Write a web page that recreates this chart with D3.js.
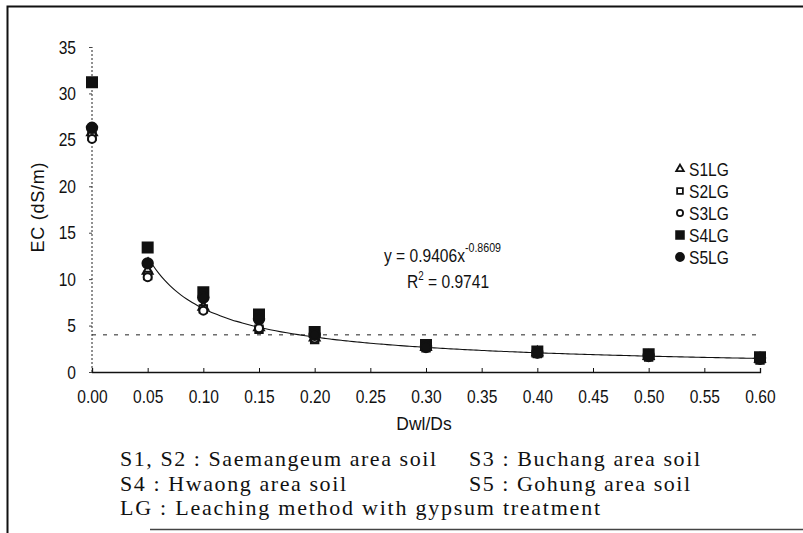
<!DOCTYPE html>
<html>
<head>
<meta charset="utf-8">
<script src="https://cdn.jsdelivr.net/npm/d3@7"></script>
<style>
  html, body { margin: 0; padding: 0; background: #fff; }
  svg { display: block; }
</style>
</head>
<body>
<svg id="chart" width="803" height="533"></svg>
<script>
// Depth of leaching water over soil depth (Dwl/Ds) and soil EC
const ratios = [0, 0.05, 0.10, 0.15, 0.20, 0.30, 0.40, 0.50, 0.60];
const s1LG = [25.8, 10.9, 7.0, 4.8, 3.7, 2.7, 2.1, 1.7, 1.4];
const s2LG = [25.4, 10.4, 6.8, 4.6, 3.5, 2.6, 2.0, 1.6, 1.3];
const s3LG = [25.1, 10.2, 6.6, 4.7, 3.6, 2.6, 2.0, 1.6, 1.3];
const s4LG = [31.2, 13.4, 8.6, 6.2, 4.3, 2.9, 2.2, 1.9, 1.6];
const s5LG = [26.3, 11.7, 8.0, 5.7, 4.0, 2.7, 2.1, 1.8, 1.5];
const seriesNames = ["S1LG", "S2LG", "S3LG", "S4LG", "S5LG"];
const xTicks = [0, 0.05, 0.10, 0.15, 0.20, 0.25, 0.30, 0.35, 0.40, 0.45, 0.50, 0.55, 0.60];
const yTicks = [0, 5, 10, 15, 20, 25, 30, 35];
// Power-law fit y = a * x^b
const fitA = 0.9406, fitB = -0.8609, fitR2 = 0.9741;
const thresholdEC = 4;
const notes = [
  ["S1, S2 : Saemangeum area soil", "S3 : Buchang area soil"],
  ["S4 : Hwaong area soil", "S5 : Gohung area soil"],
  ["LG : Leaching method with gypsum treatment", null]
];

const svg = d3.select("#chart");
const x = d3.scaleLinear().domain([0, 0.6]).range([92, 760]);
const y = d3.scaleLinear().domain([0, 35]).range([372, 47]);
const axisFont = "'Liberation Sans', Arial, sans-serif";
const serif = "'Liberation Serif', 'DejaVu Serif', serif";
const squeeze = 0.82; // horizontal compression of the chart lettering

// text placed at (tx, ty), horizontally condensed by sx
function condensed(tx, ty, sx) {
  return svg.append("g").attr("transform", `translate(${tx},${ty}) scale(${sx},1)`)
    .append("text").attr("font-family", axisFont).attr("font-size", 19).attr("fill", "#111");
}

// outer frame of the figure
svg.append("path")
  .attr("d", "M7.5,533 V6.5 H803")
  .attr("fill", "none").attr("stroke", "#111").attr("stroke-width", 2);
svg.append("line")
  .attr("x1", 150).attr("x2", 803).attr("y1", 529.5).attr("y2", 529.5)
  .attr("stroke", "#444").attr("stroke-width", 1.5);

// threshold line
svg.append("line")
  .attr("x1", x(0)).attr("x2", x(0.6))
  .attr("y1", y(thresholdEC)).attr("y2", y(thresholdEC))
  .attr("stroke", "#222").attr("stroke-width", 1)
  .attr("stroke-dasharray", "4,7");

// x axis
const xAxis = d3.axisBottom(x).tickValues(xTicks).tickSize(-4).tickPadding(18)
  .tickFormat(d3.format(".2f"));
const gx = svg.append("g").attr("transform", `translate(0,${y(0)})`).call(xAxis);
gx.select(".domain").attr("stroke", "#111").attr("stroke-width", 1.3);
gx.selectAll(".tick line").attr("stroke", "#111");
gx.selectAll(".tick text")
  .attr("font-family", axisFont).attr("font-size", 19).attr("fill", "#111")
  .attr("transform", `scale(${squeeze},1)`);

// y axis
const yAxis = d3.axisLeft(y).tickValues(yTicks).tickSize(3).tickPadding(13);
const gy = svg.append("g").attr("transform", `translate(${x(0)},0)`).call(yAxis);
gy.select(".domain").attr("stroke", "#222").attr("stroke-width", 1)
  .attr("stroke-dasharray", "2,2").attr("d", `M0,${y(0)}V${y(35)}`);
gy.selectAll(".tick line").attr("stroke", "#444");
gy.selectAll(".tick text")
  .attr("font-family", axisFont).attr("font-size", 19).attr("fill", "#111")
  .attr("x", -16 / squeeze)
  .attr("transform", `scale(${squeeze},1)`);

// axis titles
condensed(424, 430, 0.92).attr("text-anchor", "middle").text("Dwl/Ds");
svg.append("text")
  .attr("transform", `translate(44,${y(17.5) - 2}) rotate(-90)`)
  .attr("text-anchor", "middle")
  .attr("font-family", axisFont).attr("font-size", 18).attr("fill", "#111")
  .attr("textLength", 90).attr("lengthAdjust", "spacing")
  .text("EC (dS/m)");

// fitted power curve
const fitXs = d3.range(0.05, 0.6001, 0.005);
svg.append("path")
  .datum(fitXs)
  .attr("d", d3.line().x(d => x(d)).y(d => y(fitA * Math.pow(d, fitB))).curve(d3.curveBasis))
  .attr("fill", "none").attr("stroke", "#111").attr("stroke-width", 1.1);

// markers
const symbols = {
  S1LG: { type: d3.symbolTriangle, size: 42, fill: "#fff" },
  S2LG: { type: d3.symbolSquare, size: 55, fill: "#fff" },
  S3LG: { type: d3.symbolCircle, size: 50, fill: "#fff" },
  S4LG: { type: d3.symbolSquare, size: 100, fill: "#111" },
  S5LG: { type: d3.symbolCircle, size: 85, fill: "#111" }
};
const seriesValues = [s1LG, s2LG, s3LG, s4LG, s5LG];
seriesNames.forEach((name, i) => {
  const sym = symbols[name];
  svg.append("g").selectAll("path")
    .data(ratios.map((r, j) => [r, seriesValues[i][j]]))
    .join("path")
    .attr("transform", d => `translate(${x(d[0])},${y(d[1])})`)
    .attr("d", d3.symbol().type(sym.type).size(sym.size))
    .attr("fill", sym.fill).attr("stroke", "#111").attr("stroke-width", 2);
});

// legend
seriesNames.forEach((name, i) => {
  const sym = symbols[name];
  const ly = 169 + i * 22;
  svg.append("path")
    .attr("transform", `translate(680,${ly})`)
    .attr("d", d3.symbol().type(sym.type).size(sym.size * 0.6))
    .attr("fill", sym.fill).attr("stroke", "#111").attr("stroke-width", 1.8);
  condensed(689, ly + 7, squeeze).text(name);
});

// equation labels
const eq = condensed(384, 262, squeeze);
eq.append("tspan").text(`y = ${fitA}x`);
eq.append("tspan").attr("dy", -10).attr("font-size", 13)
  .text(`-${Math.abs(fitB)}`);
const r2 = condensed(407, 288, squeeze);
r2.append("tspan").text("R");
r2.append("tspan").attr("dy", -8).attr("font-size", 12).text("2");
r2.append("tspan").attr("dy", 8).text(` = ${fitR2}`);

// notes below the chart
const noteWidths = [[316, 231], [226, 221], [480, 0]];
notes.forEach((row, i) => {
  const ny = 466 + i * 24.5;
  row.forEach((t, k) => {
    if (!t) return;
    svg.append("text")
      .attr("x", k === 0 ? 120 : 469).attr("y", ny)
      .attr("font-family", serif).attr("font-size", 22)
      .attr("textLength", noteWidths[i][k]).attr("lengthAdjust", "spacing")
      .attr("fill", "#111")
      .text(t);
  });
});
</script>
</body>
</html>
